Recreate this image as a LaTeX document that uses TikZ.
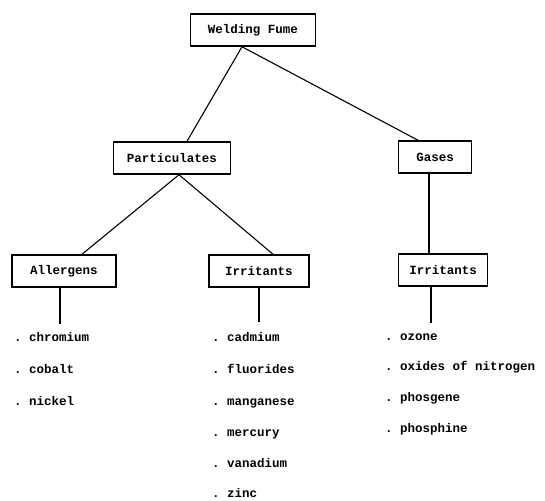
\documentclass[tikz,border=0pt]{standalone}
\usepackage{fontspec}
\setmonofont{Liberation Mono}
\usetikzlibrary{positioning}
\tikzset{
    catbox/.style={rectangle, draw=black, line width=1.5pt, minimum height=32pt, inner sep=3pt, font=\ttfamily\bfseries\fontsize{12.5}{14}\selectfont},
    itemtext/.style={anchor=base west, inner sep=0pt, font=\ttfamily\bfseries\fontsize{12.5}{14}\selectfont},
    link/.style={black, line width=1.1pt},
}
\begin{document}
\begin{tikzpicture}[x=1pt, y=-1pt]
\useasboundingbox (0,0) rectangle (545,500);

% Tree boxes
\node[catbox, minimum width=125pt] (fume) at (253,30) {Welding Fume};
\node[catbox, minimum width=117pt] (part) at (172,158) {Particulates};
\node[catbox, minimum width=73pt] (gases) at (435,157) {Gases};
\node[catbox, minimum width=104pt] (allerg) at (64,271) {Allergens};
\node[catbox, minimum width=100pt] (irrit) at (259,271) {Irritants};
\node[catbox, minimum width=89pt] (gasirr) at (443,270) {Irritants};

% Allergen list
\node[itemtext] (chrom) at (14,341) {.\ chromium};
\node[itemtext] (cobalt) at (14,373) {.\ cobalt};
\node[itemtext] (nickel) at (14,405) {.\ nickel};

% Particulate irritant list
\node[itemtext] (cadm) at (212,341) {.\ cadmium};
\node[itemtext] (fluor) at (212,373) {.\ fluorides};
\node[itemtext] (mangan) at (212,405) {.\ manganese};
\node[itemtext] (merc) at (212,436) {.\ mercury};
\node[itemtext] (vanad) at (212,467) {.\ vanadium};
\node[itemtext] (zinc) at (212,497) {.\ zinc};

% Gas irritant list
\node[itemtext] (ozone) at (385,340) {.\ ozone};
\node[itemtext] (oxides) at (385,370) {.\ oxides of nitrogen};
\node[itemtext] (phosg) at (385,401) {.\ phosgene};
\node[itemtext] (phosph) at (385,432) {.\ phosphine};

% Connectors
\draw[link] ([xshift=-11pt]fume.south) -- ([xshift=15pt]part.north);
\draw[link] ([xshift=-11pt]fume.south) -- ([xshift=-17pt]gases.north);
\draw[link] ([xshift=7pt]part.south) -- ([xshift=18pt]allerg.north);
\draw[link] ([xshift=7pt]part.south) -- ([xshift=14pt]irrit.north);
\draw[link] ([xshift=-6pt]gases.south) -- ([xshift=-6pt]gases.south |- gasirr.north);

% Drops to the lists
\coordinate (allerg-end) at ([xshift=-4pt]allerg.south |- 0,324);
\coordinate (irrit-end) at (irrit.south |- 0,322);
\coordinate (gasirr-end) at ([xshift=-12pt]gasirr.south |- 0,323);
\draw[link] ([xshift=-4pt]allerg.south) -- (allerg-end);
\draw[link] (irrit.south) -- (irrit-end);
\draw[link] ([xshift=-12pt]gasirr.south) -- (gasirr-end);

\end{tikzpicture}
\end{document}
